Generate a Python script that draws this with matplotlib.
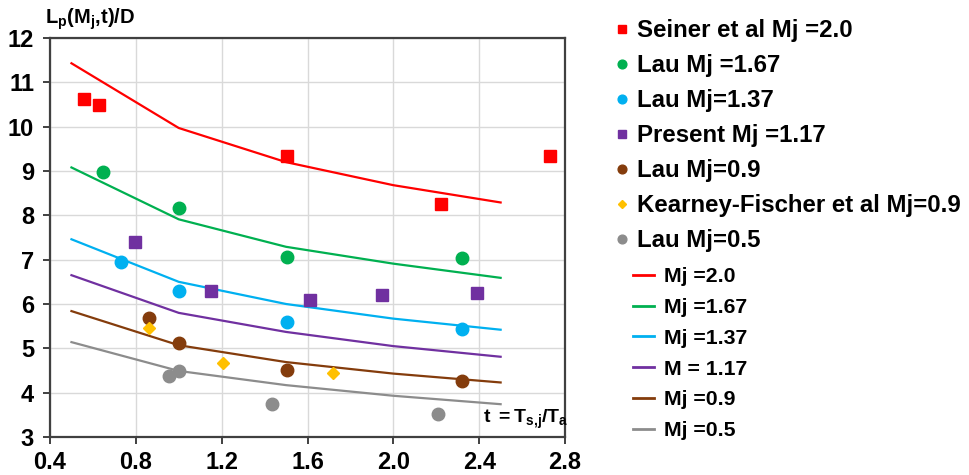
import matplotlib
matplotlib.use("Agg")
import matplotlib.pyplot as plt

plt.rcParams['font.family'] = ['Liberation Sans', 'DejaVu Sans']
plt.rcParams['font.weight'] = 'bold'
plt.rcParams['mathtext.fontset'] = 'custom'
plt.rcParams['mathtext.rm'] = 'Liberation Sans'
plt.rcParams['mathtext.bf'] = 'Liberation Sans:bold'
plt.rcParams['mathtext.it'] = 'Liberation Sans:italic'

# model curves, Lp/D vs temperature ratio t
t_model = [0.5, 1.0, 1.5, 2.0, 2.5]
model_m20 = [11.43, 9.97, 9.2, 8.68, 8.29]
model_m167 = [9.08, 7.91, 7.29, 6.91, 6.59]
model_m137 = [7.46, 6.50, 6.0, 5.67, 5.42]
model_m117 = [6.65, 5.80, 5.37, 5.05, 4.81]
model_m09 = [5.84, 5.07, 4.69, 4.43, 4.23]
model_m05 = [5.14, 4.49, 4.17, 3.93, 3.74]

# measured data
seiner_t = [0.557, 0.627, 1.503, 2.222, 2.73]
seiner_lp = [10.63, 10.48, 9.34, 8.25, 9.34]
lau167_t = [0.646, 1.003, 1.503, 2.32]
lau167_lp = [8.98, 8.16, 7.05, 7.03]
lau137_t = [0.729, 1.003, 1.503, 2.32]
lau137_lp = [6.94, 6.29, 5.60, 5.43]
present_t = [0.796, 1.152, 1.612, 1.946, 2.39]
present_lp = [7.39, 6.29, 6.10, 6.20, 6.25]
lau09_t = [0.863, 1.003, 1.503, 2.32]
lau09_lp = [5.69, 5.12, 4.52, 4.26]
kf_t = [0.861, 1.205, 1.72]
kf_lp = [5.45, 4.66, 4.45]
lau05_t = [0.956, 1.003, 1.433, 2.21]
lau05_lp = [4.37, 4.48, 3.74, 3.51]

RED = '#FF0000'
GREEN = '#00B050'
BLUE = '#00B0F0'
PURPLE = '#7030A0'
BROWN = '#843C0C'
YELLOW = '#FFC000'
GRAY = '#8C8C8C'

fig = plt.figure(figsize=(9.69, 4.75), dpi=100)
ax = fig.add_axes([50 / 969, 1 - 437 / 475, 515 / 969, 399 / 475])

lines = [
    (model_m20, RED, 'Mj =2.0'),
    (model_m167, GREEN, 'Mj =1.67'),
    (model_m137, BLUE, 'Mj =1.37'),
    (model_m117, PURPLE, 'M = 1.17'),
    (model_m09, BROWN, 'Mj =0.9'),
    (model_m05, GRAY, 'Mj =0.5'),
]
line_handles = []
for vals, c, lab in lines:
    h, = ax.plot(t_model, vals, color=c, lw=1.6, label=lab)
    line_handles.append(h)

points = [
    (seiner_t, seiner_lp, RED, 's', 8, 'Seiner et al Mj =2.0'),
    (lau167_t, lau167_lp, GREEN, 'o', 9, 'Lau Mj =1.67'),
    (lau137_t, lau137_lp, BLUE, 'o', 9, 'Lau Mj=1.37'),
    (present_t, present_lp, PURPLE, 's', 8, 'Present Mj =1.17'),
    (lau09_t, lau09_lp, BROWN, 'o', 9, 'Lau Mj=0.9'),
    (kf_t, kf_lp, YELLOW, 'D', 6.5, 'Kearney-Fischer et al Mj=0.9'),
    (lau05_t, lau05_lp, GRAY, 'o', 9, 'Lau Mj=0.5'),
]
point_handles = []
for tx, ly, c, m, ms, lab in points:
    h, = ax.plot(tx, ly, ls='none', marker=m, ms=ms, color=c, mec=c, label=lab)
    point_handles.append(h)

ax.set_xlim(0.4, 2.8)
ax.set_ylim(3, 12)
ax.set_xticks([0.4, 0.8, 1.2, 1.6, 2.0, 2.4, 2.8])
ax.set_xticklabels(['0.4', '0.8', '1.2', '1.6', '2.0', '2.4', '2.8'])
ax.set_yticks(range(3, 13))
ax.grid(True, color='#D9D9D9', lw=1.0)
ax.set_axisbelow(True)
for s in ax.spines.values():
    s.set_color('#404040')
    s.set_linewidth(1.6)
ax.tick_params(labelsize=17, width=1.4, length=5, color='#404040', pad=5)
ax.tick_params(axis='y', pad=6.5)
for lbl in ax.get_xticklabels() + ax.get_yticklabels():
    lbl.set_fontweight('bold')

fig.text(45 / 969, 1 - 19 / 475, r'$\mathbf{L_p(M_j{,}t)/D}$', fontsize=14.5,
         ha='left', va='center')
ax.text(1.006, 0.015, r'$\mathbf{t\ {=}T_{s{,}j}/T_a}$', transform=ax.transAxes,
        fontsize=14, ha='right', va='bottom')

leg1 = fig.legend(handles=point_handles, loc='upper left',
                  bbox_to_anchor=(605 / 969, 1 - 9.5 / 475), frameon=False,
                  markerscale=0.7, handlelength=0.6, handletextpad=0.32,
                  labelspacing=0.5, borderaxespad=0,
                  prop={'weight': 'bold', 'size': 17.3})
leg2 = fig.legend(handles=line_handles, loc='upper left',
                  bbox_to_anchor=(624 / 969, 1 - 259 / 475), frameon=False,
                  handlelength=1.03, handletextpad=0.47, labelspacing=0.55,
                  borderaxespad=0, prop={'weight': 'bold', 'size': 15.3})
for h in leg2.legend_handles:
    h.set_linewidth(2)

fig.savefig('out.png', dpi=100)
